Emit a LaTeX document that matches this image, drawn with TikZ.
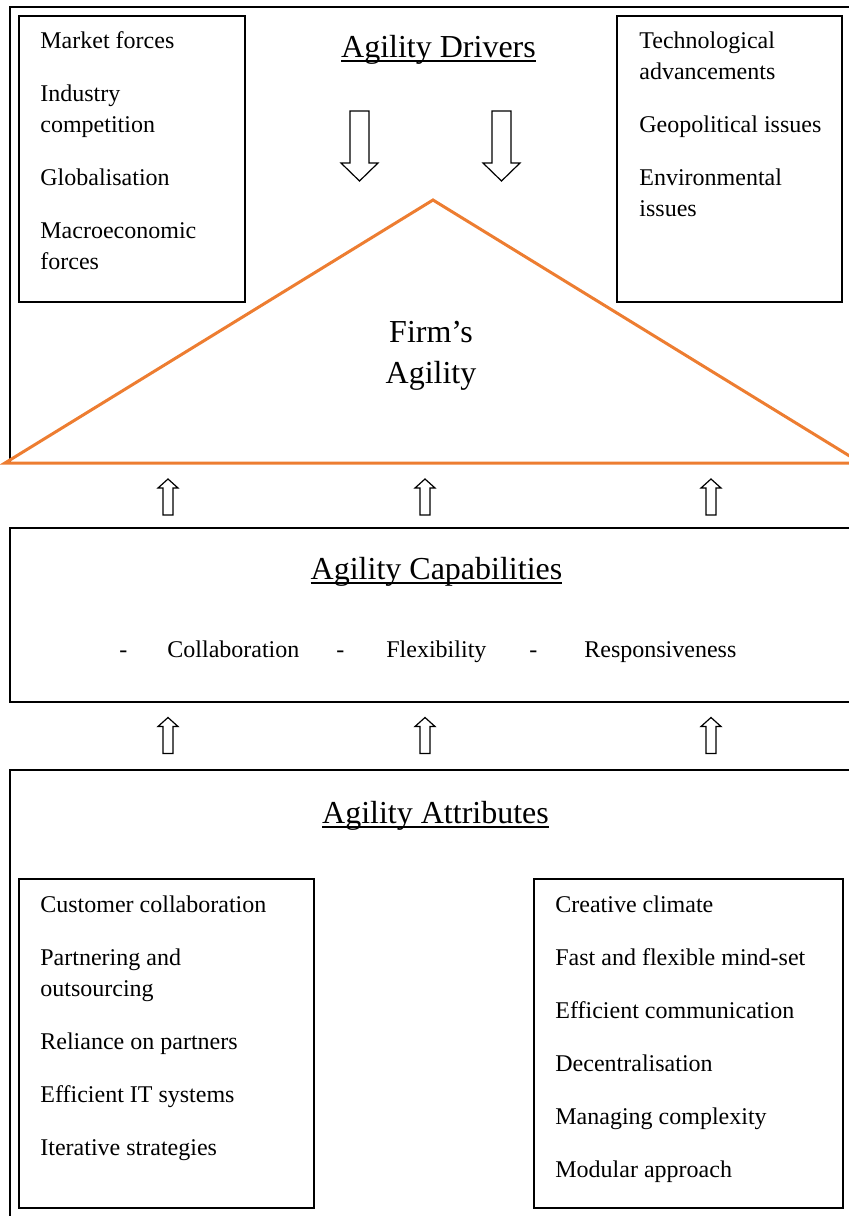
\documentclass[tikz,border=0pt]{standalone}
\usepackage{fontspec}
\setmainfont{Liberation Serif}
\definecolor{agorange}{HTML}{ED7D31}
% underline the Word way, through the descenders
\newcommand\wordul[1]{\setbox0\hbox{#1}\rlap{\rule[-2.3pt]{\wd0}{0.8pt}}\box0}
\begin{document}
\begin{tikzpicture}[x=0.5pt, y=-0.5pt,
	frame/.style={line width=0.8pt, black},
	box/.style={line width=0.8pt, black},
	item/.style={anchor=base west, inner sep=0pt, font=\fontsize{12}{14}\selectfont},
	head/.style={anchor=base, inner sep=0pt, font=\fontsize{16}{19}\selectfont},
	arrowline/.style={line width=0.6pt, black, fill=white, line join=miter},
	upbolt/.pic={\draw[arrowline] (0,-18) -- (10,-9) -- (5,-9) -- (5,18) -- (-5,18) -- (-5,-9) -- (-10,-9) -- cycle;},
	downbolt/.pic={\draw[arrowline] (0,35) -- (18.5,17) -- (9.5,17) -- (9.5,-35) -- (-9.5,-35) -- (-9.5,17) -- (-18.5,17) -- cycle;}]
		\clip (0,0) rectangle (849,1216);
		
		% OUTER FRAMES
		\draw[frame] (10,7) rectangle (880,463);
		\draw[frame] (10,528) rectangle (880,702);
		\draw[frame] (10,770) rectangle (880,1240);
		
		% DRIVERS
		\draw[box] (19,16) rectangle (245,302);
		\draw[box] (617,16) rectangle (842,302);
		
		\node[head] (drivers) at (438.5,57) {\wordul{Agility Drivers}};
		
		\node[item] (mf) at (40,48) {Market forces};
		\node[item] (ic1) at (40,101) {Industry};
		\node[item] (ic2) at (40,132) {competition};
		\node[item] (gl) at (40,185) {Globalisation};
		\node[item] (me1) at (40,238) {Macroeconomic};
		\node[item] (me2) at (40,269) {forces};
		
		\node[item] (ta1) at (639,48) {Technological};
		\node[item] (ta2) at (639,79) {advancements};
		\node[item] (gi) at (639,132) {Geopolitical issues};
		\node[item] (ei1) at (639,185) {Environmental};
		\node[item] (ei2) at (639,216) {issues};
		
		\pic (d1) at (359.5,146) {downbolt};
		\pic (d2) at (501.5,146) {downbolt};
		
		% FIRM'S AGILITY
		\draw[agorange, line width=1.5pt] (5,463) -- (433,200) -- (861,463) -- cycle;
		\node[head] (firm1) at (431,342) {Firm’s};
		\node[head] (firm2) at (431,383) {Agility};
		
		% ARROWS UP
		\foreach \x [count=\i] in {168,425,711} {
			\pic (ua\i) at (\x,497) {upbolt};
			\pic (ub\i) at (\x,735.5) {upbolt};
		}
		
		% CAPABILITIES
		\node[head] (capab) at (436.5,579) {\wordul{Agility Capabilities}};
		\node[item] (dash1) at (119,657) {-};
		\node[item] (colla) at (167,657) {Collaboration};
		\node[item] (dash2) at (336,657) {-};
		\node[item] (flex) at (386,657) {Flexibility};
		\node[item] (dash3) at (529,657) {-};
		\node[item] (resp) at (584,657) {Responsiveness};
		
		% ATTRIBUTES
		\node[head] (attrib) at (435.5,823) {\wordul{Agility Attributes}};
		\draw[box] (19,879) rectangle (314,1208);
		\draw[box] (534,879) rectangle (843,1208);
		
		\node[item] (cc) at (40,912) {Customer collaboration};
		\node[item] (po1) at (40,965) {Partnering and};
		\node[item] (po2) at (40,996) {outsourcing};
		\node[item] (rp) at (40,1049) {Reliance on partners};
		\node[item] (it) at (40,1102) {Efficient IT systems};
		\node[item] (is) at (40,1155) {Iterative strategies};
		
		\node[item] (ccl) at (555,912) {Creative climate};
		\node[item] (ffm) at (555,965) {Fast and flexible mind-set};
		\node[item] (ecm) at (555,1018) {Efficient communication};
		\node[item] (dec) at (555,1071) {Decentralisation};
		\node[item] (mco) at (555,1124) {Managing complexity};
		\node[item] (mod) at (555,1177) {Modular approach};
	\end{tikzpicture}
\end{document}
